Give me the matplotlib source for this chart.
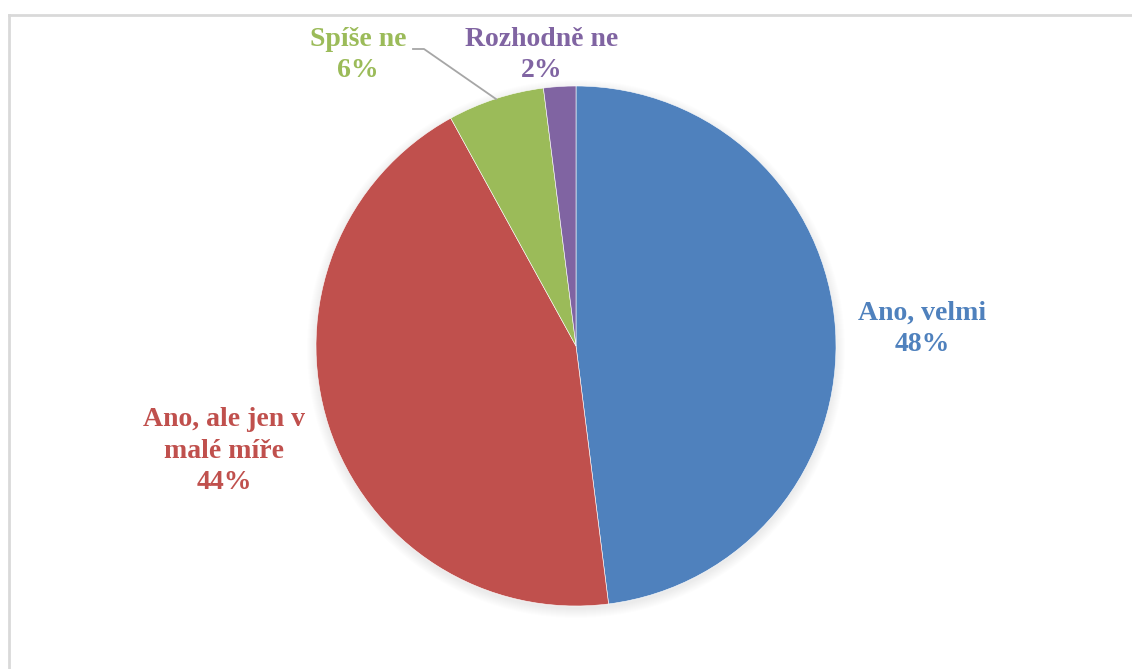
import matplotlib.pyplot as plt
from matplotlib.patches import Circle
from matplotlib.lines import Line2D

# Odpovědi a jejich podíly
categories = ['Ano, velmi', 'Ano, ale jen v\nmalé míře', 'Spíše ne', 'Rozhodně ne']
values = [48, 44, 6, 2]
colors = ['#4F81BD', '#C0504D', '#9BBB59', '#8064A2']

W, H = 1132, 669
fig = plt.figure(figsize=(W / 100, H / 100), dpi=100)
ax = fig.add_axes([0, 0, 1, 1])

cx, cy, r = 576, H - 346, 260

# jemný stín pod koláčem
for i in range(10):
    ax.add_patch(Circle((cx, cy - 3), r + 9 - i, color='#000000', alpha=0.008, lw=0, zorder=0))

wedges, _ = ax.pie(values, colors=colors, startangle=90, counterclock=False,
                   center=(cx, cy), radius=r, frame=True,
                   wedgeprops=dict(edgecolor='white', linewidth=0.4))

ax.set_xlim(0, W)
ax.set_ylim(0, H)
ax.set_aspect('equal')
ax.axis('off')

# popisky
total = sum(values)
label_pos = [(922, 329), (224, 451), (358, 55), (542, 55)]
for name, val, col, (x, y) in zip(categories, values, colors, label_pos):
    ax.text(x, H - y, f'{name}\n{round(val / total * 100)}%', color=col,
            ha='center', va='center', fontsize=20, fontweight='bold',
            family='Liberation Serif', linespacing=1.32)

# spojnice k popisku "Spíše ne"
ax.add_line(Line2D([413, 424, 496], [H - 49, H - 49, H - 99], color='#A6A6A6', lw=1.3))

# rámeček grafu
ax.add_line(Line2D([9, W], [H - 14.5, H - 14.5], color='#D9D9D9', lw=2))
ax.add_line(Line2D([9, 9], [H - 14.5, 0], color='#D9D9D9', lw=2))

fig.savefig('out.png', dpi=100)
